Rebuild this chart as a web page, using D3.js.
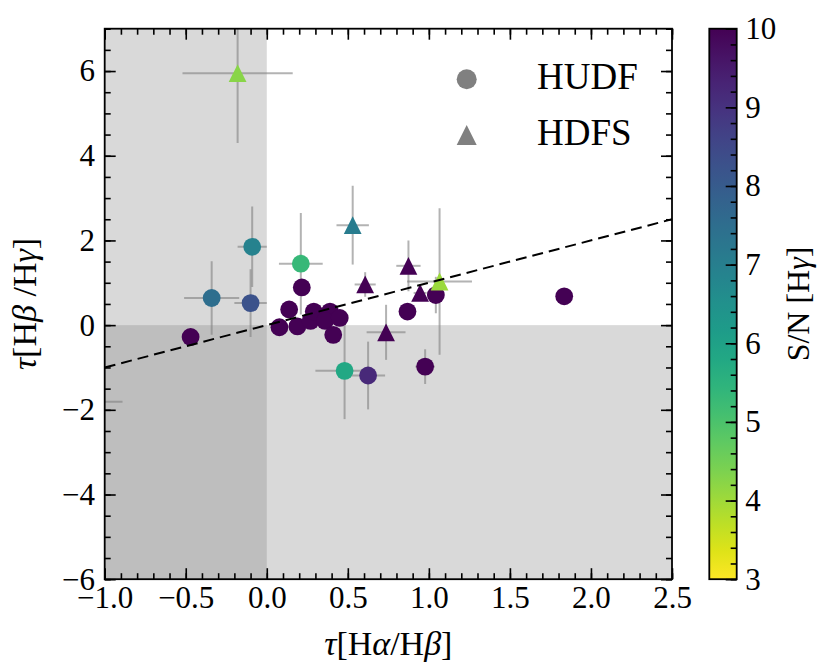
<!DOCTYPE html>
<html>
<head>
<meta charset="utf-8">
<script src="https://cdn.jsdelivr.net/npm/d3@7"></script>
<style>
  body { margin: 0; background: #fff; }
  svg text { font-family: "Liberation Serif", "Times New Roman", serif; fill: #000; }
</style>
</head>
<body>
<div id="chart"></div>
<script>
// HUDF (circles): tau[Ha/Hb], tau[Hb/Hg], errors and S/N[Hg]
var hudfX    = [-0.47, -0.34, -0.09, -0.10, 0.21, 0.216, 0.138, 0.078, 0.189, 0.27, 0.29, 0.39, 0.36, 0.45, 0.41, 0.48, 0.625, 0.868, 1.043, 0.977, 1.835, -1.15];
var hudfY    = [-0.28, 0.64, 1.85, 0.52, 1.45, 0.89, 0.37, -0.05, -0.03, 0.10, 0.32, 0.32, 0.10, 0.17, -0.23, -1.08, -1.19, 0.32, 0.71, -0.98, 0.68, -1.81];
var hudfXerr = [0.04, 0.17, 0.09, 0.10, 0.135, 0.04, 0.04, 0.03, 0.03, 0.03, 0.03, 0.03, 0.03, 0.03, 0.03, 0.18, 0.105, 0.04, 0.05, 0.06, 0.04, 0.26];
var hudfYerr = [0.15, 0.87, 0.95, 0.80, 1.20, 0.15, 0.15, 0.12, 0.12, 0.12, 0.12, 0.12, 0.12, 0.12, 0.15, 1.14, 0.80, 0.15, 0.43, 0.41, 0.15, 0.10];
var hudfSN   = [12, 7.5, 6.9, 8.25, 5.3, 14, 13, 15, 15, 16, 14, 14, 15, 13, 12, 5.8, 9.2, 11, 11, 10.5, 12, 10];

// HDFS (triangles)
var hdfsX    = [-0.18, 0.53, 0.607, 0.874, 0.736, 0.946, 1.066];
var hdfsY    = [5.95, 2.36, 0.96, 1.40, -0.17, 0.76, 1.03];
var hdfsXerr = [0.34, 0.10, 0.065, 0.075, 0.12, 0.04, 0.20];
var hdfsYerr = [1.65, 0.93, 0.29, 0.60, 0.65, 0.15, 1.73];
var hdfsSN   = [4.25, 7.1, 11, 10.5, 12, 11, 4.05];

// one-to-one line
var lineX = [-1.0, 2.5];
var lineY = [-1.0, 2.5];

var xTicks = [-1.0, -0.5, 0.0, 0.5, 1.0, 1.5, 2.0, 2.5];
var yTicks = [-6, -4, -2, 0, 2, 4, 6];
var cbTicks = [3, 4, 5, 6, 7, 8, 9, 10];

var W = 830, H = 672;
var pL = 104.7, pR = 672, pT = 28.7, pB = 579.2;

var svg = d3.select("#chart").append("svg")
  .attr("width", W).attr("height", H);

var x = d3.scaleLinear().domain([-1, 2.5]).range([pL, pR]);
var y = d3.scaleLinear().domain([-6, 7]).range([pB, pT]);
var color = d3.scaleSequential(d3.interpolateViridis).domain([10, 3]).clamp(true);

svg.append("clipPath").attr("id", "clip")
  .append("rect").attr("x", pL).attr("y", pT)
  .attr("width", pR - pL).attr("height", pB - pT);

var plot = svg.append("g").attr("clip-path", "url(#clip)");

// shaded regions (x<0 and y<0), overlap gets darker
plot.append("rect")
  .attr("x", x(-1)).attr("y", y(7))
  .attr("width", x(0) - x(-1)).attr("height", y(-6) - y(7))
  .attr("fill", "gray").attr("fill-opacity", 0.3);
plot.append("rect")
  .attr("x", x(-1)).attr("y", y(0))
  .attr("width", x(2.5) - x(-1)).attr("height", y(-6) - y(0))
  .attr("fill", "gray").attr("fill-opacity", 0.3);

function makeRows(xs, ys, xe, ye, sn) {
  return xs.map(function(d, i) {
    return {x: d, y: ys[i], xe: xe[i], ye: ye[i], sn: sn[i]};
  });
}
var hudf = makeRows(hudfX, hudfY, hudfXerr, hudfYerr, hudfSN);
var hdfs = makeRows(hdfsX, hdfsY, hdfsXerr, hdfsYerr, hdfsSN);
var all = hudf.concat(hdfs);

// error bars
var eb = plot.append("g").attr("stroke", "gray").attr("stroke-opacity", 0.6).attr("stroke-width", 2);
eb.selectAll(".xe").data(all).enter().append("line")
  .attr("x1", function(d) { return x(d.x - d.xe); })
  .attr("x2", function(d) { return x(d.x + d.xe); })
  .attr("y1", function(d) { return y(d.y); })
  .attr("y2", function(d) { return y(d.y); });
eb.selectAll(".ye").data(all).enter().append("line")
  .attr("x1", function(d) { return x(d.x); })
  .attr("x2", function(d) { return x(d.x); })
  .attr("y1", function(d) { return y(d.y - d.ye); })
  .attr("y2", function(d) { return y(d.y + d.ye); });

// markers
plot.selectAll(".hudf").data(hudf).enter().append("circle")
  .attr("cx", function(d) { return x(d.x); })
  .attr("cy", function(d) { return y(d.y); })
  .attr("r", 8.9)
  .attr("fill", function(d) { return color(d.sn); });

function triPath(s) {
  // triangle like matplotlib '^', centred on the point
  return "M0," + (-s) + "L" + s + "," + s + "L" + (-s) + "," + s + "Z";
}
plot.selectAll(".hdfs").data(hdfs).enter().append("path")
  .attr("d", triPath(8.9))
  .attr("transform", function(d) { return "translate(" + x(d.x) + "," + y(d.y) + ")"; })
  .attr("fill", function(d) { return color(d.sn); });

// dashed line
plot.append("line")
  .attr("x1", x(lineX[0])).attr("y1", y(lineY[0]))
  .attr("x2", x(lineX[1])).attr("y2", y(lineY[1]))
  .attr("stroke", "#000").attr("stroke-width", 2)
  .attr("stroke-dasharray", "11,6");

// axes
var fs = 31;
function styleAxis(g) {
  g.select(".domain").remove();
  g.selectAll(".tick line").attr("stroke", "#000").attr("stroke-width", 1.6);
  g.selectAll("text").style("font-size", fs + "px").attr("fill", "#000");
}
var xMinor = d3.range(-10, 26).map(function(i) { return i / 10; });
var yMinor = d3.range(-12, 15).map(function(i) { return i / 2; });

svg.append("g").attr("transform", "translate(0," + pB + ")")
  .call(d3.axisBottom(x).tickValues(xTicks).tickFormat(d3.format(".1f")).tickSizeInner(-11).tickSizeOuter(0).tickPadding(7))
  .call(styleAxis);
svg.append("g").attr("transform", "translate(0," + pB + ")")
  .call(d3.axisBottom(x).tickValues(xMinor).tickFormat("").tickSizeInner(-6).tickSizeOuter(0))
  .call(styleAxis);
svg.append("g").attr("transform", "translate(0," + pT + ")")
  .call(d3.axisTop(x).tickValues(xTicks).tickFormat("").tickSizeInner(-11).tickSizeOuter(0))
  .call(styleAxis);
svg.append("g").attr("transform", "translate(0," + pT + ")")
  .call(d3.axisTop(x).tickValues(xMinor).tickFormat("").tickSizeInner(-6).tickSizeOuter(0))
  .call(styleAxis);

svg.append("g").attr("transform", "translate(" + pL + ",0)")
  .call(d3.axisLeft(y).tickValues(yTicks).tickFormat(d3.format("d")).tickSizeInner(-11).tickSizeOuter(0).tickPadding(9.7))
  .call(styleAxis);
svg.append("g").attr("transform", "translate(" + pL + ",0)")
  .call(d3.axisLeft(y).tickValues(yMinor).tickFormat("").tickSizeInner(-6).tickSizeOuter(0))
  .call(styleAxis);
svg.append("g").attr("transform", "translate(" + pR + ",0)")
  .call(d3.axisRight(y).tickValues(yTicks).tickFormat("").tickSizeInner(-11).tickSizeOuter(0))
  .call(styleAxis);
svg.append("g").attr("transform", "translate(" + pR + ",0)")
  .call(d3.axisRight(y).tickValues(yMinor).tickFormat("").tickSizeInner(-6).tickSizeOuter(0))
  .call(styleAxis);

// frame
svg.append("rect")
  .attr("x", pL).attr("y", pT)
  .attr("width", pR - pL).attr("height", pB - pT)
  .attr("fill", "none").attr("stroke", "#000").attr("stroke-width", 1.8);

// axis labels
var lfs = 34;
var xl = svg.append("text")
  .attr("x", (pL + pR) / 2).attr("y", 655)
  .attr("text-anchor", "middle").style("font-size", lfs + "px");
xl.append("tspan").style("font-style", "italic").text("τ");
xl.append("tspan").text("[H");
xl.append("tspan").style("font-style", "italic").text("α");
xl.append("tspan").text("/H");
xl.append("tspan").style("font-style", "italic").text("β");
xl.append("tspan").text("]");

var yl = svg.append("text")
  .attr("transform", "translate(36," + ((pT + pB) / 2) + ") rotate(-90)")
  .attr("text-anchor", "middle").style("font-size", lfs + "px");
yl.append("tspan").style("font-style", "italic").text("τ");
yl.append("tspan").text("[H");
yl.append("tspan").style("font-style", "italic").text("β");
yl.append("tspan").text(" /H");
yl.append("tspan").style("font-style", "italic").text("γ");
yl.append("tspan").text("]");

// legend
var lg = svg.append("g");
lg.append("circle").attr("cx", 466.7).attr("cy", 79.3).attr("r", 10).attr("fill", "gray");
lg.append("path").attr("d", triPath(10)).attr("transform", "translate(466.7,135)").attr("fill", "gray");
lg.append("text").attr("x", 537).attr("y", 89.3).style("font-size", "37px").text("HUDF");
lg.append("text").attr("x", 537).attr("y", 145).style("font-size", "37px").text("HDFS");

// colorbar
var cbL = 709.3, cbR = 736.7;
var cby = d3.scaleLinear().domain([3, 10]).range([pB, pT]);
var grad = svg.append("defs").append("linearGradient")
  .attr("id", "cbgrad").attr("x1", 0).attr("y1", 1).attr("x2", 0).attr("y2", 0);
d3.range(0, 21).forEach(function(i) {
  var v = 3 + 7 * i / 20;
  grad.append("stop").attr("offset", (i / 20)).attr("stop-color", color(v));
});
svg.append("rect")
  .attr("x", cbL).attr("y", pT)
  .attr("width", cbR - cbL).attr("height", pB - pT)
  .attr("fill", "url(#cbgrad)");
var cbMinor = d3.range(15, 51).map(function(i) { return i / 5; });
svg.append("g").attr("transform", "translate(" + cbR + ",0)")
  .call(d3.axisRight(cby).tickValues(cbTicks).tickFormat(d3.format("d")).tickSizeInner(-11).tickSizeOuter(0).tickPadding(8.5))
  .call(styleAxis);
svg.append("g").attr("transform", "translate(" + cbR + ",0)")
  .call(d3.axisRight(cby).tickValues(cbMinor).tickFormat("").tickSizeInner(-6).tickSizeOuter(0))
  .call(styleAxis);
svg.append("rect")
  .attr("x", cbL).attr("y", pT)
  .attr("width", cbR - cbL).attr("height", pB - pT)
  .attr("fill", "none").attr("stroke", "#000").attr("stroke-width", 1.8);

var cl = svg.append("text")
  .attr("transform", "translate(809," + ((pT + pB) / 2) + ") rotate(-90)")
  .attr("text-anchor", "middle").style("font-size", "32px");
cl.append("tspan").text("S/N [H");
cl.append("tspan").style("font-style", "italic").text("γ");
cl.append("tspan").text("]");
</script>
</body>
</html>
